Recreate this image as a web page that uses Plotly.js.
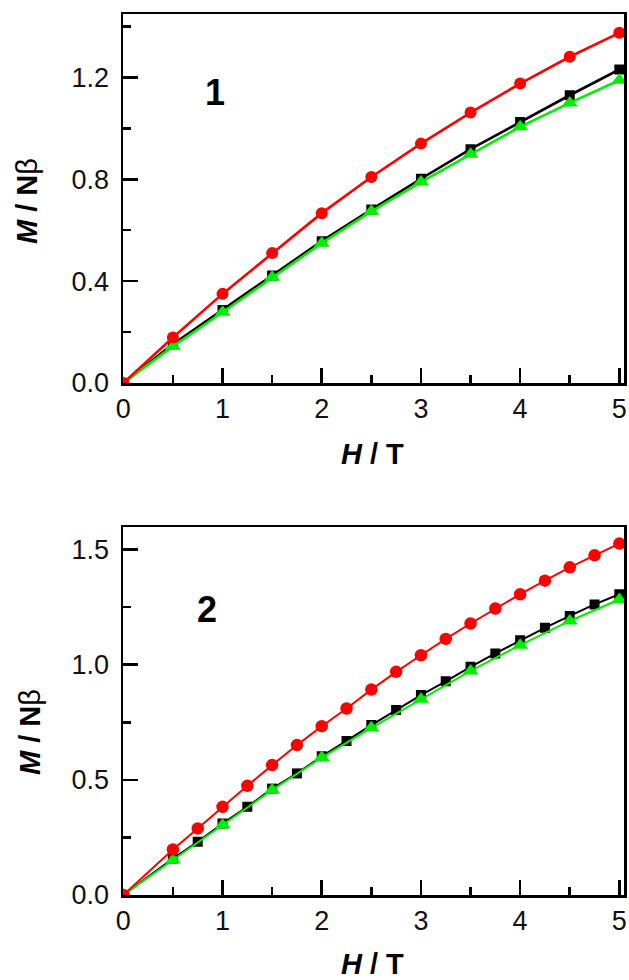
<!DOCTYPE html>
<html>
<head>
<meta charset="utf-8">
<script src="https://cdn.plot.ly/plotly-3.0.1.min.js"></script>
<style>
html,body{margin:0;padding:0;background:#fff;}
#chart{width:629px;height:980px;}
</style>
</head>
<body>
<div id="chart"></div>
<script>
// ---- Panel 1 data ----
const H1 = [0, 0.5, 1, 1.5, 2, 2.5, 3, 3.5, 4, 4.5, 5];
const M1_red   = [0, 0.179, 0.350, 0.510, 0.667, 0.809, 0.940, 1.062, 1.176, 1.281, 1.375];
const M1_black = [0, 0.152, 0.287, 0.422, 0.557, 0.681, 0.802, 0.918, 1.025, 1.130, 1.231];
const M1_green = [0, 0.144, 0.278, 0.415, 0.549, 0.674, 0.789, 0.898, 1.006, 1.100, 1.189];

// ---- Panel 2 data ----
const H2q = [0, 0.5, 0.75, 1, 1.25, 1.5, 1.75, 2, 2.25, 2.5, 2.75, 3, 3.25, 3.5, 3.75, 4, 4.25, 4.5, 4.75, 5];
const M2_red   = [0, 0.198, 0.289, 0.383, 0.474, 0.564, 0.651, 0.733, 0.810, 0.892, 0.969, 1.041, 1.112, 1.179, 1.244, 1.306, 1.365, 1.423, 1.475, 1.526];
const M2_black = [0, 0.158, 0.231, 0.310, 0.383, 0.462, 0.528, 0.602, 0.669, 0.738, 0.803, 0.868, 0.928, 0.991, 1.049, 1.106, 1.160, 1.212, 1.262, 1.306];
const H2h = [0, 0.5, 1, 1.5, 2, 2.5, 3, 3.5, 4, 4.5, 5];
const M2_green = [0, 0.152, 0.304, 0.456, 0.597, 0.726, 0.850, 0.973, 1.085, 1.190, 1.283];

// ---- Labels ----
const xTitle = "<b><i>H</i> / T</b>";
const yTitle = "<b><i>M</i> / N</b>β";
const panelLabels = ["1", "2"];

const RED = "#ff0000", BLACK = "#000000", GREEN = "#00ee00";
const FONT = "Liberation Sans, Arial, sans-serif";
const W = 629, Hh = 980;

function tr(x, y, color, symbol, size, lw, xa, ya) {
  return {x: x, y: y, xaxis: xa, yaxis: ya, type: "scatter", mode: "lines+markers",
    line: {color: color, width: lw},
    marker: {color: color, symbol: symbol, size: size},
    showlegend: false, hoverinfo: "skip"};
}

const data = [
  tr(H1, M1_black, BLACK, "square", 10, 2.6, "x", "y"),
  tr(H1, M1_green, GREEN, "triangle-up", 14, 2.6, "x", "y"),
  tr(H1, M1_red, RED, "circle", 12, 2.6, "x", "y"),
  tr(H2q, M2_black, BLACK, "square", 10, 2, "x2", "y2"),
  tr(H2h, M2_green, GREEN, "triangle-up", 14, 2, "x2", "y2"),
  tr(H2q, M2_red, RED, "circle", 12.5, 2, "x2", "y2")
];

const xDom = [123.3 / W, 624.3 / W];
const tickFont = {family: FONT, size: 27, color: "#111"};
function xaxis(anchor) {
  return {domain: xDom, anchor: anchor, range: [0, 5.05], dtick: 1, tick0: 0,
    ticks: "inside", ticklen: 15, tickwidth: 2.5, tickcolor: "#000",
    minor: {dtick: 0.5, ticks: "inside", ticklen: 8, tickwidth: 2.5, tickcolor: "#000"},
    showline: true, linecolor: "#000", linewidth: 2.5, mirror: true,
    showgrid: false, zeroline: false, tickfont: tickFont};
}
function yaxis(anchor, dom, range, dt) {
  return {domain: dom, anchor: anchor, range: range, dtick: dt, tick0: 0,
    showticklabels: false,
    ticks: "inside", ticklen: 15, tickwidth: 2.5, tickcolor: "#000",
    minor: {dtick: dt / 2, ticks: "inside", ticklen: 8, tickwidth: 2.5, tickcolor: "#000"},
    showline: true, linecolor: "#000", linewidth: 2.5, mirror: true,
    showgrid: false, zeroline: false};
}
// label-only companion axis, set a few px left of the frame
function ylabels(over, range, dt, fmt) {
  return {overlaying: over, anchor: "free", position: 109 / W, side: "left",
    range: range, dtick: dt, tick0: 0, tickformat: fmt, ticks: "",
    showline: false, showgrid: false, zeroline: false, tickfont: tickFont};
}

function ann(text, px, py, size, angle) {
  return {text: text, xref: "paper", yref: "paper", x: px / W, y: 1 - py / Hh,
    xanchor: "center", yanchor: "middle", showarrow: false, textangle: angle || 0,
    font: {family: FONT, size: size, color: "#000"}};
}

const R1 = [0, 1.449], R2 = [0, 1.598];
const layout = {
  width: W, height: Hh,
  margin: {l: 0, r: 0, t: 0, b: 0},
  paper_bgcolor: "#fff", plot_bgcolor: "#fff",
  xaxis: xaxis("y"),
  yaxis: yaxis("x", [1 - 383 / Hh, 1 - 14 / Hh], R1, 0.4),
  yaxis3: ylabels("y", R1, 0.4, ".1f"),
  xaxis2: xaxis("y2"),
  yaxis2: yaxis("x2", [1 - 895 / Hh, 1 - 527 / Hh], R2, 0.5),
  yaxis4: ylabels("y2", R2, 0.5, ".1f"),
  annotations: [
    ann(xTitle, 372, 454, 29),
    ann(xTitle, 372, 964, 29),
    ann(yTitle, 27, 201, 29, -90),
    ann(yTitle, 30, 732, 29, -90),
    ann("<b>" + panelLabels[0] + "</b>", 215, 92, 36),
    ann("<b>" + panelLabels[1] + "</b>", 207, 609, 36)
  ]
};

data.push({x: [0], y: [0], xaxis: "x", yaxis: "y3", type: "scatter", mode: "markers",
  marker: {opacity: 0}, showlegend: false, hoverinfo: "skip"});
data.push({x: [0], y: [0], xaxis: "x2", yaxis: "y4", type: "scatter", mode: "markers",
  marker: {opacity: 0}, showlegend: false, hoverinfo: "skip"});

Plotly.newPlot("chart", data, layout, {displayModeBar: false, staticPlot: true});
</script>
</body>
</html>
